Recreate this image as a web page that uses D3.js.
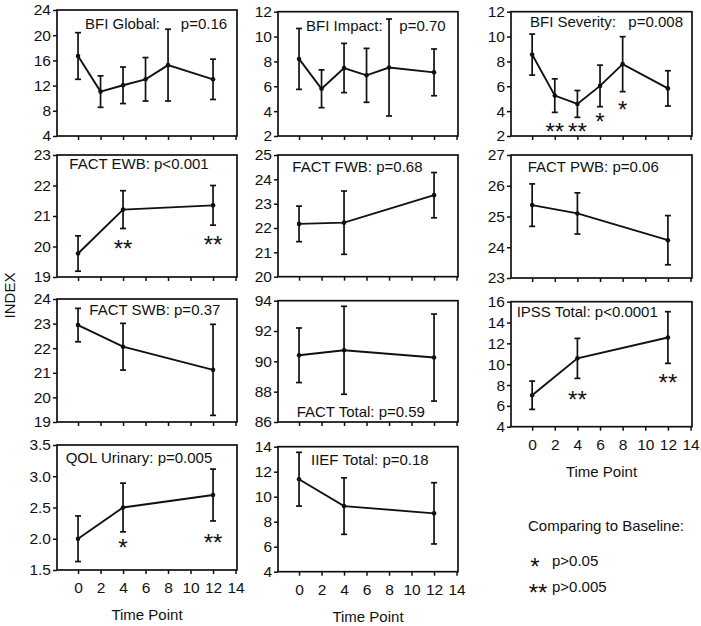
<!DOCTYPE html>
<html>
<head>
<meta charset="utf-8">
<script src="https://cdn.jsdelivr.net/npm/d3@7"></script>
<style>
  html, body { margin: 0; padding: 0; background: #fff; }
  svg { display: block; }
  text { font-family: "Liberation Sans", Arial, sans-serif; fill: #111; }
</style>
</head>
<body>
<svg id="chart" width="701" height="626"></svg>
<script>
// ---------- data ----------
const xTicks = [0, 2, 4, 6, 8, 10, 12, 14];
const xBFI = [0, 2, 4, 6, 8, 12];
const xFACT = [0, 4, 12];

const bfiGlobalMean = [16.7, 11.05, 12.05, 13.0, 15.25, 13.0];
const bfiGlobalErr  = [3.7, 2.5, 2.9, 3.45, 5.7, 3.2];
const bfiImpactMean = [8.2, 5.8, 7.47, 6.88, 7.51, 7.12];
const bfiImpactErr  = [2.45, 1.52, 1.98, 2.17, 3.9, 1.88];
const bfiSeverityMean = [8.55, 5.25, 4.58, 6.03, 7.78, 5.83];
const bfiSeverityErr  = [1.65, 1.35, 1.08, 1.67, 2.21, 1.42];
const ewbMean = [19.77, 21.21, 21.35];
const ewbErr  = [0.58, 0.62, 0.65];
const fwbMean = [22.17, 22.22, 23.35];
const fwbErr  = [0.73, 1.3, 0.93];
const pwbMean = [25.37, 25.1, 24.23];
const pwbErr  = [0.69, 0.67, 0.8];
const swbMean = [22.94, 22.06, 21.12];
const swbErr  = [0.68, 0.95, 1.85];
const factTotalMean = [90.4, 90.73, 90.25];
const factTotalErr  = [1.8, 2.9, 2.87];
const ipssMean = [7.02, 10.56, 12.56];
const ipssErr  = [1.36, 1.92, 2.48];
const qolMean = [2.0, 2.5, 2.7];
const qolErr  = [0.365, 0.39, 0.415];
const iiefMean = [11.4, 9.25, 8.67];
const iiefErr  = [2.15, 2.26, 2.45];

const titles = [
  "BFI Global:     p=0.16",
  "BFI Impact:    p=0.70",
  "BFI Severity:   p=0.008",
  "FACT EWB: p<0.001",
  "FACT FWB: p=0.68",
  "FACT PWB: p=0.06",
  "FACT SWB: p=0.37",
  "FACT Total: p=0.59",
  "IPSS Total: p<0.0001",
  "QOL Urinary: p=0.005",
  "IIEF Total: p=0.18"
];

// significance markers (x time point, y value in data units)
const severityStars = [{x: 2, y: 2.8, s: "**"}, {x: 4, y: 2.8, s: "**"}, {x: 6, y: 3.61, s: "*"}, {x: 8, y: 4.57, s: "*"}];
const ewbStars = [{x: 4, y: 20.1, s: "**"}, {x: 12, y: 20.23, s: "**"}];
const ipssStars = [{x: 4, y: 7.1, s: "**"}, {x: 12, y: 8.74, s: "**"}];
const qolStars = [{x: 4, y: 1.94, s: "*"}, {x: 12, y: 2.02, s: "**"}];

const legendTitle = "Comparing to Baseline:";
const legendItems = [{s: "*", t: "p>0.05"}, {s: "**", t: "p>0.005"}];

// ---------- layout ----------
const panels = [
  {x: xBFI, m: bfiGlobalMean, e: bfiGlobalErr, yd: [4, 24], ys: 4, box: [57, 10, 237, 136], title: 0, tx: 85, ty: 29.3},
  {x: xBFI, m: bfiImpactMean, e: bfiImpactErr, yd: [2, 12], ys: 2, box: [278, 11.7, 458, 136], title: 1, tx: 306, ty: 31},
  {x: xBFI, m: bfiSeverityMean, e: bfiSeverityErr, yd: [2, 12], ys: 2, box: [511, 11.7, 692, 136], title: 2, tx: 530, ty: 26.7, stars: severityStars},
  {x: xFACT, m: ewbMean, e: ewbErr, yd: [19, 23], ys: 1, box: [57, 155, 237, 277], title: 3, tx: 69.3, ty: 169.3, stars: ewbStars},
  {x: xFACT, m: fwbMean, e: fwbErr, yd: [20, 25], ys: 1, box: [278, 155, 458, 276.7], title: 4, tx: 292.3, ty: 172.3},
  {x: xFACT, m: pwbMean, e: pwbErr, yd: [23, 27], ys: 1, box: [511, 155, 692, 278], title: 5, tx: 527.7, ty: 172.3},
  {x: xFACT, m: swbMean, e: swbErr, yd: [19, 24], ys: 1, box: [57, 299, 237, 422], title: 6, tx: 89.3, ty: 315},
  {x: xFACT, m: factTotalMean, e: factTotalErr, yd: [86, 94], ys: 2, box: [278, 300.7, 458, 422], title: 7, tx: 296.7, ty: 416.7},
  {x: xFACT, m: ipssMean, e: ipssErr, yd: [4, 16], ys: 2, box: [511, 301.7, 692, 426.7], title: 8, tx: 516.7, ty: 317.3, stars: ipssStars, xlab: true},
  {x: xFACT, m: qolMean, e: qolErr, yd: [1.5, 3.5], ys: 0.5, fmt: ".1f", box: [57, 445, 237, 570], title: 9, tx: 65.7, ty: 463.3, stars: qolStars, xlab: true},
  {x: xFACT, m: iiefMean, e: iiefErr, yd: [4, 14], ys: 2, box: [278, 446.7, 458, 571.7], title: 10, tx: 311, ty: 465, xlab: true}
];

const svg = d3.select("#chart");
const FS = 15;
const TICK_FS = 15.5;
const STAR_FS = 24;

panels.forEach(p => {
  const [l, t, r, b] = p.box;
  const x = d3.scaleLinear().domain([-1.87, 14.13]).range([l, r]);
  const y = d3.scaleLinear().domain(p.yd).range([b, t]);
  const g = svg.append("g");
  const yt = d3.range(p.yd[0], p.yd[1] + p.ys / 2, p.ys);

  const xAxis = d3.axisBottom(x).tickValues(xTicks).tickSize(4).tickSizeOuter(0)
    .tickFormat(p.xlab ? d3.format("d") : () => "");
  const gx = g.append("g").attr("transform", `translate(0,${b})`).call(xAxis);
  gx.select(".domain").remove();
  gx.selectAll("line").attr("stroke", "#111").attr("stroke-width", 1.5);
  gx.selectAll("text").attr("font-size", TICK_FS).attr("dy", "1.05em").attr("fill", "#111");

  const yAxis = d3.axisLeft(y).tickValues(yt).tickSize(4).tickSizeOuter(0)
    .tickFormat(p.fmt ? d3.format(p.fmt) : d3.format("d"));
  const gy = g.append("g").attr("transform", `translate(${l},0)`).call(yAxis);
  gy.select(".domain").remove();
  gy.selectAll("line").attr("stroke", "#111").attr("stroke-width", 1.5);
  gy.selectAll("text").attr("font-size", TICK_FS).attr("x", -6).attr("fill", "#111");

  g.append("rect").attr("x", l).attr("y", t).attr("width", r - l).attr("height", b - t)
    .attr("fill", "none").attr("stroke", "#111").attr("stroke-width", 1.7);

  const pts = p.x.map((xv, i) => ({x: xv, m: p.m[i], e: p.e[i]}));

  // error bars
  const eb = g.append("g").attr("stroke", "#111").attr("stroke-width", 1.7);
  pts.forEach(d => {
    eb.append("line").attr("x1", x(d.x)).attr("x2", x(d.x)).attr("y1", y(d.m - d.e)).attr("y2", y(d.m + d.e));
    eb.append("line").attr("x1", x(d.x) - 3).attr("x2", x(d.x) + 3).attr("y1", y(d.m + d.e)).attr("y2", y(d.m + d.e));
    eb.append("line").attr("x1", x(d.x) - 3).attr("x2", x(d.x) + 3).attr("y1", y(d.m - d.e)).attr("y2", y(d.m - d.e));
  });

  g.append("path").datum(pts)
    .attr("d", d3.line().x(d => x(d.x)).y(d => y(d.m)))
    .attr("fill", "none").attr("stroke", "#111").attr("stroke-width", 1.9);

  g.selectAll("circle.pt").data(pts).join("circle").attr("class", "pt")
    .attr("cx", d => x(d.x)).attr("cy", d => y(d.m)).attr("r", 2.3).attr("fill", "#111");

  g.append("text").attr("x", p.tx).attr("y", p.ty).attr("font-size", FS)
    .style("white-space", "pre").text(titles[p.title]);

  if (p.stars) {
    g.selectAll("text.star").data(p.stars).join("text").attr("class", "star")
      .attr("x", d => x(d.x)).attr("y", d => y(d.y) + STAR_FS * 0.58)
      .attr("text-anchor", "middle").attr("font-size", STAR_FS).text(d => d.s);
  }

  if (p.xlab) {
    g.append("text").attr("x", (l + r) / 2).attr("y", b + 50).attr("text-anchor", "middle")
      .attr("font-size", FS).text("Time Point");
  }
});

// y axis title
svg.append("text").attr("transform", "translate(15,295.5) rotate(-90)")
  .attr("text-anchor", "middle").attr("font-size", FS).text("INDEX");

// legend
svg.append("text").attr("x", 528).attr("y", 530.5).attr("font-size", FS).text(legendTitle);
legendItems.forEach((d, i) => {
  const cy = 560.7 + i * 26;
  svg.append("text").attr("x", d.s.length === 1 ? 535 : 538).attr("y", cy + STAR_FS * 0.58)
    .attr("text-anchor", "middle").attr("font-size", STAR_FS).text(d.s);
  svg.append("text").attr("x", 552).attr("y", cy + 5.5).attr("font-size", FS).text(d.t);
});
</script>
</body>
</html>
